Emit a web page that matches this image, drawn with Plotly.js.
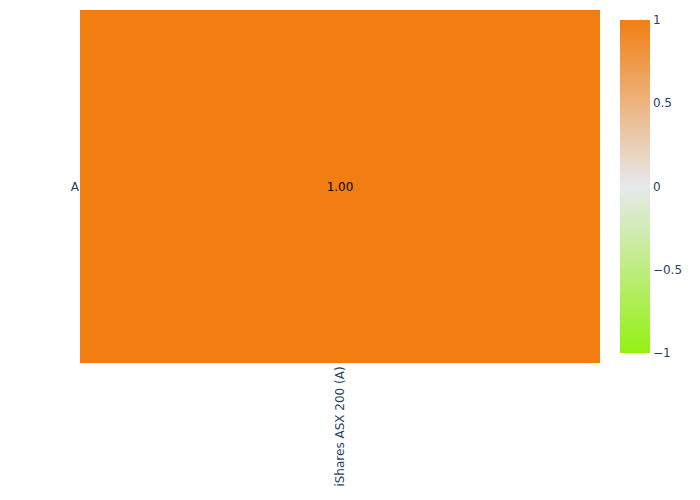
<!DOCTYPE html>
<html>
<head>
<meta charset="utf-8">
<script src="https://cdn.plot.ly/plotly-3.0.1.min.js"></script>
<style>html,body{margin:0;padding:0;}#chart{width:700px;height:500px;}</style>
</head>
<body>
<div id="chart"></div>
<script>
const xLabels = ["iShares ASX 200 (A)"];
const yLabels = ["A"];
const zValues = [[1.00]];

const trace = {
  type: 'heatmap',
  x: xLabels,
  y: yLabels,
  z: zValues,
  zmin: -1,
  zmax: 1,
  colorscale: [[0, '#94f112'], [0.5, '#e7e9ec'], [1, '#f27e12']],
  texttemplate: '%{z:.2f}',
  textfont: {size: 12, color: '#000'},
  colorbar: {tickvals: [-1, -0.5, 0, 0.5, 1], outlinewidth: 0, ticks: ''}
};

const layout = {
  width: 700,
  height: 500,
  margin: {l: 80, r: 100, t: 10, b: 137},
  paper_bgcolor: '#fff',
  plot_bgcolor: '#fff',
  xaxis: {type: 'category', tickangle: -90, showgrid: false, zeroline: false, ticks: ''},
  yaxis: {type: 'category', showgrid: false, zeroline: false, ticks: ''},
  font: {family: '"DejaVu Sans", Verdana, sans-serif', size: 12, color: '#2a3f5f'}
};

Plotly.newPlot('chart', [trace], layout, {displayModeBar: false});
</script>
</body>
</html>
